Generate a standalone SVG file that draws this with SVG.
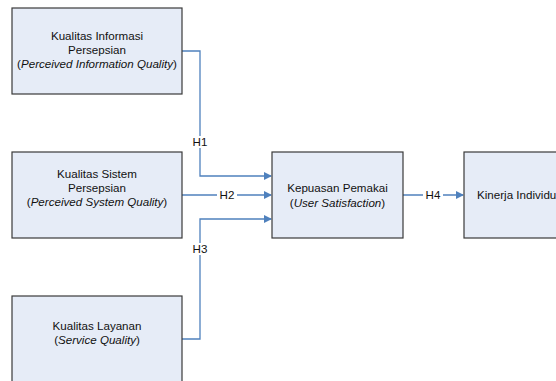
<svg xmlns="http://www.w3.org/2000/svg" width="556" height="381" viewBox="0 0 556 381">
<style>
.box{fill:#e6ecf7;stroke:#3a3a3a;stroke-width:1.2}
.t{font-family:"Liberation Sans",Arial,sans-serif;font-size:11.6px;fill:#111;text-anchor:middle}
.c{fill:none;stroke:#4f81bd;stroke-width:1.3}
.lb{fill:#fff}
</style>
<defs>
<marker id="ah" markerWidth="8" markerHeight="8" refX="7" refY="4" orient="auto" markerUnits="userSpaceOnUse">
<path d="M0,0 L8,4 L0,8 Z" fill="#4f81bd"/>
</marker>
</defs>
<rect width="556" height="381" fill="#fff"/>
<g id="connectors">
<path class="c" d="M182,51 H200 V176 H271" marker-end="url(#ah)"/>
<path class="c" d="M182,195 H271" marker-end="url(#ah)"/>
<path class="c" d="M182,339 H200 V219 H271" marker-end="url(#ah)"/>
<path class="c" d="M403,195 H463" marker-end="url(#ah)"/>
<rect class="lb" x="190" y="136" width="20" height="12"/>
<text class="t" x="200" y="146">H1</text>
<rect class="lb" x="217" y="189" width="20" height="12"/>
<text class="t" x="227" y="199">H2</text>
<rect class="lb" x="190" y="243" width="20" height="12"/>
<text class="t" x="200" y="253">H3</text>
<rect class="lb" x="423" y="189" width="20" height="12"/>
<text class="t" x="433" y="199">H4</text>
</g>
<g id="n1">
<rect class="box" x="12" y="8" width="170" height="86"/>
<text class="t" x="97" y="40">Kualitas Informasi</text>
<text class="t" x="97" y="54">Persepsian</text>
<text class="t" x="97" y="68">(<tspan font-style="italic">Perceived Information Quality</tspan>)</text>
</g>
<g id="n2">
<rect class="box" x="12" y="152" width="170" height="86"/>
<text class="t" x="97" y="178">Kualitas Sistem</text>
<text class="t" x="97" y="192">Persepsian</text>
<text class="t" x="97" y="206">(<tspan font-style="italic">Perceived System Quality</tspan>)</text>
</g>
<g id="n3">
<rect class="box" x="12" y="296" width="170" height="100"/>
<text class="t" x="97" y="330">Kualitas Layanan</text>
<text class="t" x="97" y="344">(<tspan font-style="italic">Service Quality</tspan>)</text>
</g>
<g id="n4">
<rect class="box" x="272" y="152" width="131" height="86"/>
<text class="t" x="337.5" y="192">Kepuasan Pemakai</text>
<text class="t" x="337.5" y="207">(<tspan font-style="italic">User Satisfaction</tspan>)</text>
</g>
<g id="n5">
<rect class="box" x="464" y="152" width="120" height="86"/>
<text class="t" x="477" y="199" style="text-anchor:start">Kinerja Individu</text>
</g>
</svg>
